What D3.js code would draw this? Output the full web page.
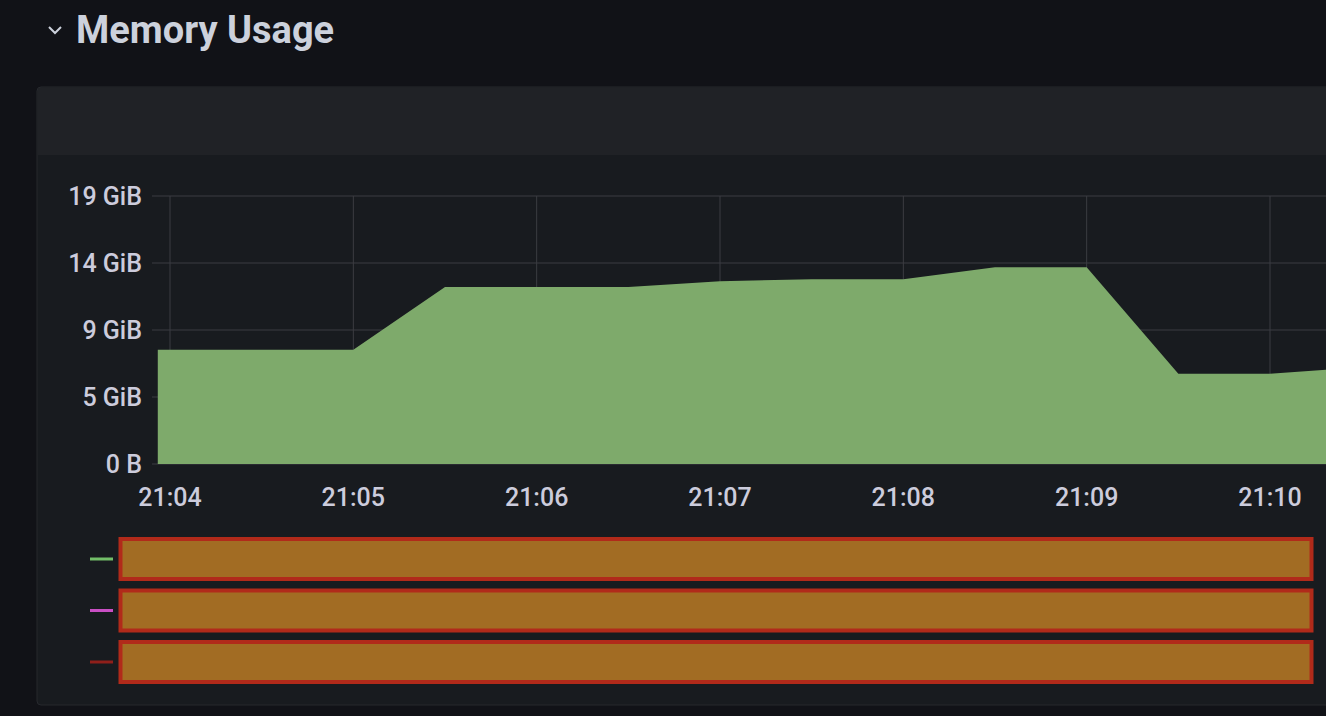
<!DOCTYPE html>
<html><head><meta charset="utf-8">
<script src="https://cdn.jsdelivr.net/npm/d3@7"></script>
<style>html,body{margin:0;background:#111217;overflow:hidden}</style>
</head><body><svg id="c" width="1326" height="716"></svg>
<script>
const times = ["21:03:56","21:05:00","21:05:30","21:06:30","21:07:00","21:07:30","21:08:00","21:08:30","21:09:00","21:09:30","21:10:00","21:10:30"];
const memGiB = [8.1,8.1,12.55,12.55,12.95,13.1,13.1,13.95,13.95,6.4,6.4,6.85];
const yTicks = [0,4.75,9.5,14.25,19];
const yTickLabels = ["0 B","5 GiB","9 GiB","14 GiB","19 GiB"];
const xTickTimes = ["21:04","21:05","21:06","21:07","21:08","21:09","21:10"];
const legendColors = ["#73bf69","#c94fc4","#8f1f1a"];

const svg = d3.select("#c");
const font = "Roboto, 'Noto Sans', sans-serif";
const pt = d3.timeParse("%H:%M:%S"), pm = d3.timeParse("%H:%M");
svg.append("rect").attr("x",37).attr("y",87).attr("width",1320).attr("height",618).attr("rx",4).attr("fill","#181b1f").attr("stroke","#26282d");
svg.append("rect").attr("x",38).attr("y",88).attr("width",1300).attr("height",67).attr("fill","#202226");
svg.append("path").attr("d","M49,27 L55,33 L61,27").attr("fill","none").attr("stroke","#ccd1dc").attr("stroke-width",2);
svg.append("text").attr("x",76).attr("y",43).attr("fill","#ccd1dc").attr("font-family",font).attr("font-weight","bold").attr("font-size",38).text("Memory Usage");

const x = d3.scaleTime().domain([pm("21:04"), pm("21:10")]).range([170,1270]);
const y = d3.scaleLinear().domain([0,19]).range([464,196]);
const g = svg.append("g");
g.selectAll(".hg").data(yTicks).join("line").attr("x1",152).attr("x2",1326).attr("y1",d=>y(d)).attr("y2",d=>y(d)).attr("stroke","#3b3d42");
g.selectAll(".vg").data(xTickTimes).join("line").attr("x1",d=>x(pm(d))).attr("x2",d=>x(pm(d))).attr("y1",196).attr("y2",464).attr("stroke","#3b3d42");
const data = times.map((t,i)=>({t:pt(t),v:memGiB[i]}));
svg.append("clipPath").attr("id","cp").append("rect").attr("x",150).attr("y",0).attr("width",1176).attr("height",716);
g.append("path").datum(data).attr("clip-path","url(#cp)")
 .attr("d",d3.area().x(d=>x(d.t)).y0(y(0)).y1(d=>y(d.v))).attr("fill","#7eaa6b");
g.selectAll(".yl").data(yTicks).join("text").attr("x",142).attr("y",d=>y(d)+9).attr("text-anchor","end")
 .attr("fill","#ccccdc").attr("font-family",font).attr("font-weight",500).attr("font-size",25).text((d,i)=>yTickLabels[i]);
g.selectAll(".xl").data(xTickTimes).join("text").attr("x",d=>x(pm(d))).attr("y",506).attr("text-anchor","middle")
 .attr("fill","#ccccdc").attr("font-family",font).attr("font-weight",500).attr("font-size",25).text(d=>d);
legendColors.forEach((c,i)=>{
  const cy = 559 + i*51.5;
  svg.append("line").attr("x1",90).attr("x2",113).attr("y1",cy).attr("y2",cy).attr("stroke",c).attr("stroke-width",3);
  svg.append("rect").attr("x",120.5).attr("y",cy-20).attr("width",1191).attr("height",40).attr("fill","#a26c23").attr("stroke","#b12a1a").attr("stroke-width",4);
});
</script></body></html>
